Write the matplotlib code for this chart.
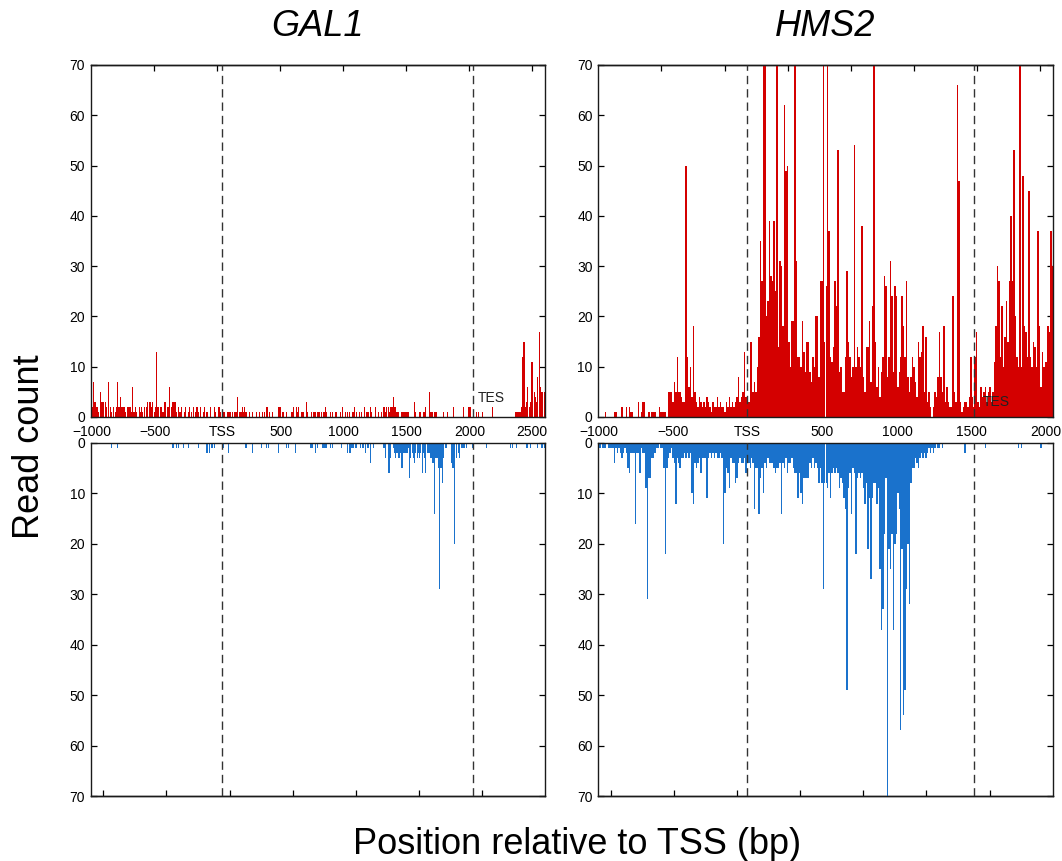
import numpy as np
import matplotlib
matplotlib.use("Agg")
import matplotlib.pyplot as plt
from matplotlib.ticker import NullFormatter

plt.rcParams['font.family'] = ['Liberation Sans', 'DejaVu Sans']

# Read counts in 10 bp bins, first bin starts at -1000 bp relative to the TSS.
BIN = 10
BIN_START = -1000

gal1_sense = [
    2, 7, 3, 2, 2, 1, 5, 3, 3, 3,
    3, 2, 0, 7, 2, 1, 0, 2, 1, 2,
    7, 2, 4, 2, 2, 2, 1, 0, 2, 2,
    2, 1, 6, 1, 2, 1, 0, 2, 1, 2,
    1, 2, 0, 2, 3, 3, 3, 2, 3, 1,
    2, 13, 2, 0, 2, 2, 1, 3, 3, 0,
    2, 6, 0, 2, 3, 3, 3, 1, 2, 1,
    1, 2, 0, 1, 2, 0, 1, 2, 0, 1,
    2, 0, 1, 2, 1, 0, 2, 0, 1, 2,
    0, 1, 0, 0, 2, 0, 0, 2, 1, 0,
    2, 2, 1, 0, 1, 1, 0, 1, 1, 1,
    1, 1, 0, 1, 1, 4, 0, 1, 1, 2,
    1, 2, 1, 0, 0, 1, 0, 1, 0, 0,
    1, 0, 0, 1, 0, 1, 0, 1, 2, 2,
    0, 1, 0, 1, 0, 0, 0, 0, 2, 2,
    0, 1, 1, 0, 1, 0, 0, 0, 1, 1,
    2, 0, 2, 1, 2, 0, 1, 1, 1, 0,
    3, 1, 0, 0, 1, 0, 1, 1, 0, 1,
    1, 0, 1, 0, 1, 2, 1, 0, 0, 1,
    0, 1, 0, 1, 1, 0, 0, 1, 0, 2,
    0, 1, 0, 1, 1, 0, 0, 1, 2, 0,
    1, 0, 1, 0, 1, 0, 2, 0, 1, 1,
    0, 2, 1, 0, 0, 2, 0, 1, 0, 0,
    1, 2, 2, 1, 2, 2, 1, 2, 2, 4,
    2, 2, 1, 1, 0, 0, 1, 1, 1, 1,
    1, 1, 0, 0, 0, 0, 3, 1, 0, 0,
    1, 1, 0, 1, 1, 2, 0, 0, 5, 1,
    1, 0, 1, 1, 0, 0, 0, 0, 0, 1,
    0, 0, 1, 0, 0, 0, 0, 2, 0, 0,
    0, 0, 0, 0, 0, 2, 0, 0, 0, 2,
    2, 0, 0, 0, 0, 1, 0, 1, 0, 0,
    1, 0, 0, 0, 0, 0, 0, 0, 2, 0,
    0, 0, 0, 0, 0, 0, 0, 0, 0, 0,
    0, 0, 0, 0, 0, 0, 1, 1, 1, 1,
    1, 2, 12, 15, 2, 3, 6, 2, 3, 11,
    11, 5, 4, 3, 8, 17, 6, 5, 5, 5,
]

gal1_antisense = [
    0, 0, 0, 0, 0, 0, 0, 0, 0, 0,
    0, 0, 0, 0, 0, 1, 0, 0, 0, 0,
    1, 0, 0, 0, 0, 0, 0, 0, 0, 0,
    0, 0, 0, 0, 0, 0, 0, 0, 0, 0,
    0, 0, 0, 0, 0, 0, 0, 0, 0, 0,
    0, 0, 0, 0, 0, 0, 0, 0, 0, 0,
    0, 0, 0, 0, 1, 0, 0, 1, 1, 0,
    0, 0, 1, 0, 0, 0, 1, 0, 0, 0,
    0, 0, 0, 0, 1, 0, 0, 0, 0, 0,
    0, 2, 0, 2, 0, 1, 0, 1, 0, 0,
    0, 0, 0, 0, 1, 0, 0, 0, 2, 0,
    0, 0, 0, 0, 0, 0, 0, 0, 0, 0,
    0, 0, 1, 0, 0, 0, 0, 2, 0, 0,
    0, 0, 0, 0, 1, 0, 0, 0, 1, 0,
    1, 0, 0, 0, 0, 0, 0, 0, 2, 0,
    0, 0, 0, 0, 1, 0, 1, 0, 0, 0,
    0, 2, 0, 0, 0, 0, 0, 0, 0, 0,
    0, 0, 0, 1, 1, 1, 0, 2, 0, 1,
    0, 0, 0, 1, 1, 1, 1, 0, 0, 1,
    0, 1, 0, 0, 0, 0, 0, 0, 1, 0,
    0, 0, 0, 2, 2, 2, 1, 1, 0, 1,
    1, 0, 0, 1, 0, 1, 0, 2, 0, 1,
    0, 4, 0, 1, 0, 0, 0, 0, 0, 0,
    0, 1, 1, 3, 0, 6, 6, 3, 0, 1,
    2, 3, 2, 3, 3, 2, 5, 2, 2, 2,
    2, 1, 7, 3, 2, 3, 4, 2, 3, 2,
    3, 2, 6, 2, 3, 6, 2, 2, 2, 3,
    4, 4, 14, 3, 3, 5, 29, 5, 8, 3,
    0, 1, 0, 0, 0, 4, 5, 5, 20, 3,
    0, 2, 3, 1, 1, 1, 1, 1, 0, 0,
    0, 0, 1, 0, 0, 0, 0, 0, 0, 0,
    0, 0, 0, 1, 0, 0, 0, 0, 0, 0,
    0, 0, 0, 0, 0, 0, 0, 0, 0, 0,
    0, 0, 1, 0, 1, 0, 0, 1, 0, 0,
    0, 0, 0, 0, 0, 1, 1, 0, 1, 0,
    0, 0, 0, 0, 1, 0, 0, 1, 1, 1,
]

hms2_sense = [
    0, 0, 0, 0, 1, 0, 0, 0, 0, 0,
    1, 1, 0, 0, 0, 2, 0, 0, 2, 0,
    2, 1, 1, 0, 0, 0, 3, 0, 1, 3,
    3, 0, 0, 1, 0, 1, 1, 1, 0, 0,
    2, 1, 1, 1, 1, 0, 5, 5, 5, 3,
    7, 5, 12, 5, 5, 4, 3, 3, 50, 12,
    6, 10, 4, 18, 5, 3, 2, 4, 3, 2,
    3, 2, 4, 3, 2, 1, 3, 2, 2, 4,
    2, 3, 2, 2, 1, 3, 2, 4, 2, 3,
    2, 3, 4, 8, 3, 4, 5, 13, 4, 3,
    3, 15, 15, 5, 7, 5, 10, 16, 35, 27,
    75, 75, 20, 23, 39, 28, 27, 39, 25, 75,
    14, 31, 30, 18, 62, 49, 50, 15, 10, 19,
    19, 75, 31, 12, 12, 10, 19, 13, 9, 15,
    15, 9, 7, 12, 10, 20, 20, 8, 27, 27,
    75, 15, 26, 75, 37, 12, 11, 14, 27, 22,
    53, 9, 10, 5, 5, 12, 29, 15, 12, 8,
    10, 54, 10, 14, 12, 10, 38, 8, 5, 14,
    14, 19, 7, 22, 75, 15, 6, 10, 4, 9,
    12, 28, 26, 8, 12, 31, 24, 9, 26, 24,
    6, 9, 12, 24, 18, 12, 27, 8, 5, 8,
    12, 10, 7, 4, 15, 12, 13, 18, 5, 16,
    3, 5, 2, 0, 2, 5, 4, 8, 17, 8,
    5, 18, 3, 6, 3, 2, 2, 24, 5, 3,
    66, 47, 3, 1, 2, 3, 3, 2, 4, 12,
    4, 2, 12, 17, 3, 2, 6, 4, 5, 6,
    3, 5, 6, 3, 5, 11, 18, 30, 27, 12,
    22, 10, 16, 23, 15, 27, 40, 27, 53, 20,
    12, 10, 75, 10, 48, 18, 17, 12, 45, 12,
    10, 15, 14, 10, 37, 18, 6, 13, 10, 11,
    11, 18, 17, 37, 30,
]

hms2_antisense = [
    1, 0, 1, 1, 1, 0, 1, 1, 1, 1,
    4, 1, 2, 1, 2, 3, 2, 1, 2, 5,
    6, 2, 2, 2, 16, 2, 2, 6, 1, 2,
    2, 9, 31, 7, 7, 3, 3, 2, 1, 1,
    0, 1, 1, 5, 22, 5, 3, 2, 1, 3,
    4, 12, 3, 4, 5, 3, 3, 2, 3, 2,
    3, 2, 10, 12, 4, 5, 4, 3, 6, 3,
    3, 3, 11, 3, 2, 3, 2, 3, 2, 3,
    3, 2, 3, 20, 10, 5, 6, 9, 3, 4,
    4, 8, 7, 4, 3, 4, 4, 3, 6, 4,
    4, 5, 3, 4, 13, 5, 5, 14, 7, 5,
    10, 4, 5, 3, 4, 4, 4, 5, 6, 5,
    5, 4, 14, 4, 5, 3, 6, 4, 4, 3,
    5, 6, 6, 11, 6, 10, 12, 7, 7, 7,
    7, 4, 5, 3, 5, 4, 5, 8, 5, 8,
    29, 8, 8, 9, 6, 11, 6, 5, 6, 5,
    6, 9, 7, 8, 11, 13, 49, 9, 6, 14,
    5, 6, 22, 7, 6, 7, 6, 9, 12, 8,
    21, 11, 27, 11, 8, 8, 12, 9, 25, 37,
    33, 18, 7, 75, 21, 25, 18, 37, 20, 18,
    10, 13, 57, 21, 54, 49, 29, 20, 32, 8,
    5, 5, 3, 4, 5, 3, 2, 3, 2, 3,
    2, 1, 2, 1, 2, 1, 0, 1, 1, 0,
    1, 0, 0, 0, 0, 0, 0, 0, 0, 0,
    0, 0, 0, 0, 0, 2, 0, 0, 0, 0,
    0, 0, 0, 0, 0, 0, 0, 0, 0, 1,
    0, 0, 0, 0, 0, 0, 0, 0, 0, 0,
    0, 0, 0, 0, 0, 0, 0, 0, 0, 0,
    0, 1, 0, 1, 0, 0, 0, 0, 0, 0,
    0, 0, 0, 0, 0, 0, 1, 0, 0, 0,
    0, 0, 0, 0, 0,
]

# Gene features (bp relative to TSS) and plotted ranges
gal1_tss, gal1_tes = 33, 2029
hms2_tss, hms2_tes = -7, 1519
gal1_xlim = (-1010, 2601)
hms2_xlim = (-1005, 2045)
gal1_ticks = [-1000, -500, 0, 500, 1000, 1500, 2000, 2500]
hms2_ticks = [-1000, -500, 0, 500, 1000, 1500, 2000]

RED = '#d40000'
BLUE = '#1a72cc'
DASH = '#333333'
SPINE = '#1a1a1a'

fig = plt.figure(figsize=(10.62, 8.61), dpi=100)
W, H = 1062.0, 861.0


def frame(ax):
    for s in ax.spines.values():
        s.set_linewidth(1.0)
        s.set_color(SPINE)


def aux_scale(xlim):
    lo, hi = xlim
    fwd = lambda x: -1100 + (np.asarray(x) - lo) / (hi - lo) * 3600.0
    inv = lambda t: lo + (np.asarray(t) + 1100) / 3600.0 * (hi - lo)
    return fwd, inv


def draw_gene(left, width, name, sense, antisense, xlim, tss, tes, ticks, tes_pos,
              bar_w):
    ax_t = fig.add_axes([left / W, 1 - 417 / H, width / W, 352 / H])
    ax_b = fig.add_axes([left / W, 1 - 796 / H, width / W, 353 / H])

    x_sense = BIN_START + BIN * np.arange(len(sense))
    x_anti = BIN_START + BIN * np.arange(len(antisense))
    ax_t.bar(x_sense, sense, width=bar_w, align='edge', color=RED, linewidth=0, zorder=2)
    ax_b.bar(x_anti, antisense, width=bar_w, align='edge', color=BLUE, linewidth=0, zorder=2)

    for ax in (ax_t, ax_b):
        ax.set_xlim(*xlim)
        ax.axvline(tss, color=DASH, lw=1.0, dashes=(6, 3.6), zorder=3)
        ax.axvline(tes, color=DASH, lw=1.0, dashes=(6, 3.6), zorder=3)
        ax.set_yticks(range(0, 71, 10))
        ax.tick_params(axis='y', direction='in', length=4, left=True, right=True,
                       labelsize=10, pad=4, width=0.9)
        frame(ax)

    ax_t.set_ylim(0, 70)
    ax_b.set_ylim(70, 0)

    # labelled positions below the sense track
    pos = [tss if t == 0 else t for t in ticks]
    labels = ['TSS' if t == 0 else str(t).replace('-', '\u2212') for t in ticks]
    ax_t.set_xticks(pos)
    ax_t.set_xticklabels(labels)
    ax_t.tick_params(axis='x', length=0, pad=6, labelsize=10)
    ax_t.text(tes_pos[0], tes_pos[1], 'TES', fontsize=10, ha='left', va='center',
              color='#222222', zorder=4)

    fwd, inv = aux_scale(xlim)
    top = ax_t.secondary_xaxis('top', functions=(fwd, inv))
    top.set_xticks(range(-600, 2401, 500))
    top.xaxis.set_major_formatter(NullFormatter())
    top.tick_params(direction='in', length=4, width=0.9)
    top.spines['top'].set_linewidth(1.0)

    ax_b.tick_params(axis='x', bottom=False, labelbottom=False)
    bot = ax_b.secondary_xaxis('bottom', functions=(fwd, inv))
    bot.set_xticks(range(-1000, 2001, 500))
    bot.xaxis.set_major_formatter(NullFormatter())
    bot.tick_params(direction='in', length=4, width=0.9)
    bot.spines['bottom'].set_linewidth(1.0)

    fig.text((left + width / 2) / W, 1 - 26 / H, name, fontsize=26, style='italic',
             ha='center', va='center')


draw_gene(90.7, 454.3, 'GAL1', gal1_sense, gal1_antisense, gal1_xlim,
          gal1_tss, gal1_tes, gal1_ticks, (2069, 3.8), 9)
draw_gene(598.3, 454.4, 'HMS2', hms2_sense, hms2_antisense, hms2_xlim,
          hms2_tss, hms2_tes, hms2_ticks, (1577, 3.0), 10)

fig.text(30 / W, 1 - 447 / H, 'Read count', fontsize=26, rotation=90,
         ha='center', va='center')
fig.text(577 / W, 1 - 845 / H, 'Position relative to TSS (bp)', fontsize=26,
         ha='center', va='center')

fig.savefig('out.png', dpi=100)
